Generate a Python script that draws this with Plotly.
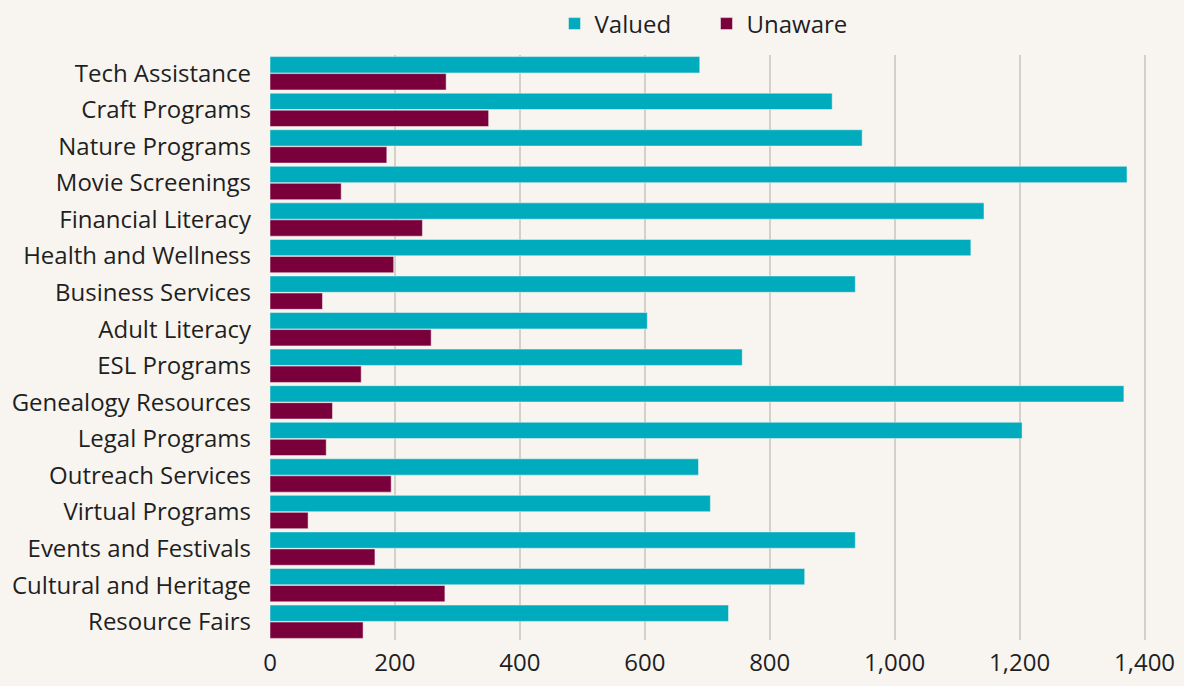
import plotly.graph_objects as go

categories = ["Tech Assistance", "Craft Programs", "Nature Programs", "Movie Screenings",
              "Financial Literacy", "Health and Wellness", "Business Services", "Adult Literacy",
              "ESL Programs", "Genealogy Resources", "Legal Programs", "Outreach Services",
              "Virtual Programs", "Events and Festivals", "Cultural and Heritage", "Resource Fairs"]
valued = [688, 900, 948, 1372, 1143, 1122, 937, 604, 756, 1367, 1204, 686, 705, 937, 856, 734]
unaware = [282, 350, 187, 114, 244, 198, 84, 258, 146, 100, 90, 194, 61, 168, 280, 149]

BG = "#F8F5F1"
FONT = "'Open Sans', sans-serif"

fig = go.Figure()
fig.add_trace(go.Bar(name="Valued", y=categories, x=valued, orientation="h",
                     marker=dict(color="#00ABBD", line=dict(color=BG, width=0.5))))
fig.add_trace(go.Bar(name="Unaware", y=categories, x=unaware, orientation="h",
                     marker=dict(color="#7A003C", line=dict(color=BG, width=0.5))))

fig.update_layout(
    width=1184, height=686,
    paper_bgcolor=BG, plot_bgcolor=BG,
    font=dict(family=FONT, size=24, color="#1f1f1f"),
    barmode="group", bargap=0.07, bargroupgap=0.04,
    margin=dict(l=270, r=12, t=55, b=46, autoexpand=False),
    legend=dict(orientation="h", x=0.3154, xanchor="left",
                yref="container", y=0.965, yanchor="middle",
                font=dict(size=24), bgcolor="rgba(0,0,0,0)", itemwidth=30,
                entrywidth=107),
    xaxis=dict(range=[0, 1444], tickvals=[0, 200, 400, 600, 800, 1000, 1200, 1400],
               tickformat=",", showgrid=True, gridcolor="#D3CFC9", gridwidth=1.5,
               zeroline=False, showline=False, ticks="", ticklabelstandoff=6,
               automargin=False),
    yaxis=dict(autorange="reversed", showgrid=False, zeroline=False, showline=False,
               ticks="", ticklabelstandoff=18, automargin=False),
    showlegend=True,
)

fig.write_html("out.html", config={"displayModeBar": False},
               post_script="document.body.style.margin='0';document.body.style.padding='0';"
                           "document.body.style.overflow='hidden';")
